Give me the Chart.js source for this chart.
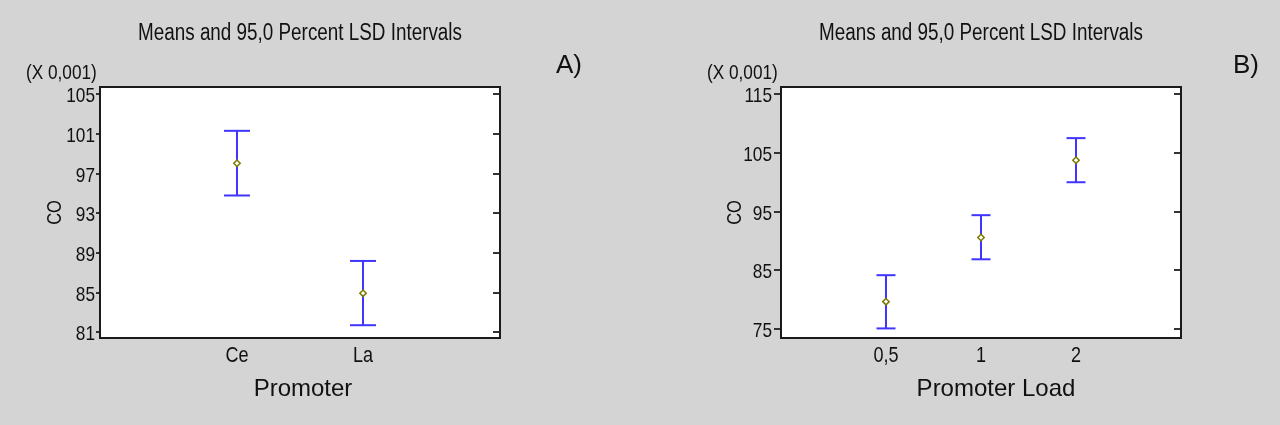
<!DOCTYPE html>
<html>
<head>
<meta charset="utf-8">
<script src="https://cdn.jsdelivr.net/npm/chart.js@4.4.1/dist/chart.umd.min.js"></script>
<style>
  html, body { margin: 0; padding: 0; background: #d4d4d4; }
  #wrap { position: relative; width: 1280px; height: 425px; overflow: hidden; }
  canvas { position: absolute; top: 0; }
  #chartA { left: 0; }
  #chartB { left: 640px; }
</style>
</head>
<body>
<div id="wrap">
  <canvas id="chartA" width="640" height="425"></canvas>
  <canvas id="chartB" width="640" height="425"></canvas>
</div>
<script>
// Panel A - Promoter
const promoterCats = ['Ce', 'La'];
const promoterMeans = [98.05, 84.95];
const promoterLower = [94.8, 81.72];
const promoterUpper = [101.32, 88.2];
const promoterTicks = [81, 85, 89, 93, 97, 101, 105];

// Panel B - Promoter Load
const loadCats = ['0,5', '1', '2'];
const loadMeans = [79.7, 90.6, 103.75];
const loadLower = [75.15, 86.9, 100.0];
const loadUpper = [84.2, 94.4, 107.5];
const loadTicks = [75, 85, 95, 105, 115];

const regular = "'Liberation Sans', Arial, sans-serif";
const blue = '#4035ff';

// Arial Narrow look: Liberation Sans squeezed horizontally
function narrowText(ctx, text, x, y, size, align, rot) {
    ctx.save();
    ctx.translate(x, y);
    if (rot) ctx.rotate(rot);
    ctx.scale(0.82, 1);
    ctx.font = size + 'px ' + regular;
    ctx.textAlign = align;
    ctx.fillText(text, 0, 0);
    ctx.restore();
}

// white plot box, frame, ticks and all the texts
const framePlugin = {
    id: 'frame',
    beforeDraw(chart) {
        const a = chart.chartArea, ctx = chart.ctx;
        ctx.save();
        ctx.fillStyle = '#ffffff';
        ctx.fillRect(a.left, a.top, a.right - a.left, a.bottom - a.top);
        ctx.restore();
    },
    afterDraw(chart, args, opts) {
        const a = chart.chartArea, ctx = chart.ctx;
        const y = chart.scales.y, x = chart.scales.x;
        ctx.save();
        ctx.strokeStyle = '#333';
        ctx.lineWidth = 2;
        ctx.fillStyle = '#111';
        ctx.textBaseline = 'alphabetic';
        y.ticks.forEach(t => {
            const py = Math.round(y.getPixelForValue(t.value));
            ctx.beginPath();
            ctx.moveTo(a.right - 7, py);
            ctx.lineTo(a.right, py);
            ctx.moveTo(a.left - opts.tickLen, py);
            ctx.lineTo(a.left, py);
            ctx.stroke();
            narrowText(ctx, String(t.value), a.left - opts.tickLen - opts.tickPad, py + 7.5, 21, 'right');
        });
        x.ticks.forEach(t => {
            const px = x.getPixelForValue(t.value);
            narrowText(ctx, opts.cats[t.value - 1], px, 362, 22, 'center');
        });
        ctx.strokeStyle = '#1a1a1a';
        ctx.strokeRect(a.left, a.top, a.right - a.left, a.bottom - a.top);

        narrowText(ctx, 'Means and 95,0 Percent LSD Intervals', opts.titleX, 40, 23, 'center');
        narrowText(ctx, '(X 0,001)', opts.unitX, 79, 21, 'left');
        narrowText(ctx, 'CO', opts.coX, (a.top + a.bottom) / 2, 20, 'center', -Math.PI / 2);

        ctx.textAlign = 'center';
        ctx.font = '24px ' + regular;
        ctx.fillText(opts.xTitle, opts.xTitleX, 396);
        ctx.font = '26px ' + regular;
        ctx.fillText(opts.letter, opts.letterX, 73);
        ctx.restore();
    }
};

function makePanel(canvasId, cats, means, lower, upper, yTicks, cfg) {
    const xs = cats.map((c, i) => i + 1);
    const whiskers = [];
    const caps = [];
    xs.forEach((x, i) => {
        whiskers.push({x: x, y: lower[i]}, {x: x, y: upper[i]}, {x: x, y: null});
        caps.push({x: x, y: lower[i]}, {x: x, y: upper[i]});
    });

    return new Chart(document.getElementById(canvasId).getContext('2d'), {
        type: 'scatter',
        data: {
            datasets: [{
                label: 'Mean',
                data: xs.map((x, i) => ({x: x, y: means[i]})),
                pointStyle: 'rectRot',
                pointRadius: 3.2,
                borderWidth: 1.5,
                borderColor: '#7d7a00',
                backgroundColor: '#ffffff'
            }, {
                label: 'Caps',
                data: caps,
                pointStyle: 'line',
                pointRadius: cfg.capRadius,
                borderWidth: 2,
                borderColor: blue
            }, {
                label: 'Interval',
                data: whiskers,
                showLine: true,
                spanGaps: false,
                pointRadius: 0,
                borderWidth: 2,
                borderColor: blue
            }]
        },
        plugins: [framePlugin],
        options: {
            responsive: false,
            animation: false,
            layout: { padding: { left: 0, right: cfg.padRight, top: 87, bottom: 0 } },
            plugins: {
                legend: { display: false },
                tooltip: { enabled: false },
                frame: {
                    cats: cats, titleX: cfg.titleX, unitX: cfg.unitX, letter: cfg.letter, letterX: cfg.letterX,
                    tickLen: cfg.tickLen, tickPad: cfg.tickPad, coX: cfg.coX,
                    xTitle: cfg.xTitle, xTitleX: cfg.xTitleX
                }
            },
            scales: {
                x: {
                    type: 'linear',
                    min: cfg.xMin,
                    max: cfg.xMax,
                    afterFit: s => { s.height = 87; },
                    afterBuildTicks: s => { s.ticks = xs.map(v => ({value: v})); },
                    grid: { display: false, drawTicks: false },
                    border: { display: false },
                    ticks: { display: false }
                },
                y: {
                    min: cfg.yMin,
                    max: cfg.yMax,
                    afterFit: s => { s.width = cfg.yWidth; },
                    afterBuildTicks: s => { s.ticks = yTicks.map(v => ({value: v})); },
                    grid: { display: false, drawTicks: false },
                    border: { display: false },
                    ticks: { display: false }
                }
            }
        }
    });
}

const promoterChart = makePanel('chartA', promoterCats, promoterMeans, promoterLower, promoterUpper, promoterTicks, {
    xMin: -0.087, xMax: 3.087, yMin: 80.43, yMax: 105.74,
    padRight: 140, yWidth: 100, tickLen: 4, tickPad: 1, coX: 61,
    capRadius: 13, xTitle: 'Promoter', xTitleX: 303,
    titleX: 300, unitX: 26, letter: 'A)', letterX: 569
});

const loadChart = makePanel('chartB', loadCats, loadMeans, loadLower, loadUpper, loadTicks, {
    xMin: -0.105, xMax: 4.105, yMin: 73.52, yMax: 116.19,
    padRight: 99, yWidth: 141, tickLen: 7, tickPad: 2, coX: 101,
    capRadius: 9.5, xTitle: 'Promoter Load', xTitleX: 356,
    titleX: 341, unitX: 67, letter: 'B)', letterX: 606
});
</script>
</body>
</html>
